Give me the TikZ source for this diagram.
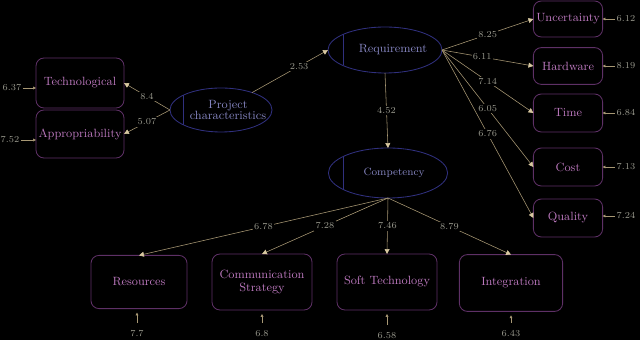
\documentclass[tikz,border=0pt]{standalone}
\usetikzlibrary{shapes.geometric,arrows.meta,calc}
\definecolor{latline}{HTML}{30307E}
\definecolor{lattext}{HTML}{8686C2}
\definecolor{boxline}{HTML}{5E3066}
\definecolor{boxtext}{HTML}{BC78BE}
\definecolor{pathcol}{HTML}{A89874}
\definecolor{tipcol}{HTML}{D8C8A0}
\definecolor{numcol}{HTML}{9A9A8E}

\begin{document}
\begin{tikzpicture}[
    x=0.025cm, y=-0.025cm,
    latent/.style={ellipse, draw=latline, line width=0.6pt, inner sep=0pt, outer sep=0pt},
    lattxt/.style={text=lattext, font=\fontsize{8.5}{9.5}\selectfont, align=center},
    obs/.style={rectangle, draw=boxline, line width=0.6pt, rounded corners=0.2cm, text=boxtext, font=\fontsize{8.5}{9.5}\selectfont, align=center, inner sep=1pt, outer sep=0pt},
    path/.style={draw=pathcol, line width=0.4pt, -{Triangle[width=3.5pt,length=3.5pt,color=tipcol]}},
    errpath/.style={draw=pathcol, line width=0.4pt, -{Triangle[width=2pt,length=2pt]}},
    coef/.style={fill=black, text=numcol, font=\fontsize{6.5}{7}\selectfont, inner sep=1pt},
    err/.style={text=numcol, font=\fontsize{6.5}{7}\selectfont, inner sep=1pt}
]
\fill[black] (0,0) rectangle (640,340);
\useasboundingbox (0,0) rectangle (640,340);

% Latent variables
\node[latent, minimum width=2.55cm, minimum height=1.1cm] (proj) at (221,110) {};
\node[latent, minimum width=2.85cm, minimum height=1.15cm] (req) at (385,50) {};
\node[latent, minimum width=2.98cm, minimum height=1.25cm] (comp) at (388,173) {};
\node[lattxt] (projtxt) at ($(proj)+(7,0)$) {Project\\[-1pt]characteristics};
\node[lattxt] (reqtxt) at ($(req)+(8,0)$) {Requirement};
\node[lattxt, font=\fontsize{7.5}{8.5}\selectfont] (comptxt) at ($(comp)+(6,0)$) {Competency};
\draw[latline, line width=0.6pt] ($(proj.west)+(13,-15)$) -- ($(proj.west)+(13,15)$);
\draw[latline, line width=0.6pt] ($(req.west)+(15,-15.5)$) -- ($(req.west)+(15,15.5)$);
\draw[latline, line width=0.6pt] ($(comp.west)+(15,-16.5)$) -- ($(comp.west)+(15,16.5)$);

% Indicators of project characteristics
\node[obs, minimum width=2.2cm, minimum height=1.25cm] (tech) at (80,83) {Technological};
\node[obs, minimum width=2.2cm, minimum height=1.2cm] (appr) at (80,134) {Appropriability};

% Indicators of requirement
\node[obs, minimum width=1.73cm, minimum height=0.9cm] (unc) at (568,19) {Uncertainty};
\node[obs, minimum width=1.73cm, minimum height=0.92cm] (hard) at (568,66) {Hardware};
\node[obs, minimum width=1.73cm, minimum height=0.95cm] (time) at (568,113) {Time};
\node[obs, minimum width=1.73cm, minimum height=0.95cm] (cost) at (568,167) {Cost};
\node[obs, minimum width=1.73cm, minimum height=0.95cm] (qual) at (568,218) {Quality};

% Indicators of competency
\node[obs, minimum width=2.4cm, minimum height=1.33cm] (res) at (139,282) {Resources};
\node[obs, minimum width=2.5cm, minimum height=1.4cm] (comm) at (262,282) {Communication\\Strategy};
\node[obs, minimum width=2.5cm, minimum height=1.4cm] (soft) at (387,282) {Soft Technology};
\node[obs, minimum width=2.58cm, minimum height=1.42cm] (integ) at (511,283) {Integration};

% Structural paths
\draw[path] (proj.west) -- (tech.east) node[coef, midway] {8.4};
\draw[path] (proj.west) -- (appr.east) node[coef, midway] {5.07};
\draw[path] (proj) -- (req.west) node[coef, pos=0.62] {2.53};
\draw[path] (req.south) -- (comp.north) node[coef, midway] {4.52};

% Requirement loadings
\draw[path] (req.east) -- (unc.west) node[coef, midway] {8.25};
\draw[path] (req.east) -- (hard.west) node[coef, pos=0.44] {6.11};
\draw[path] (req.east) -- (time.west) node[coef, midway] {7.14};
\draw[path] (req.east) -- (cost.west) node[coef, midway] {6.05};
\draw[path] (req.east) -- (qual.west) node[coef, midway] {6.76};

% Competency loadings
\draw[path] (comp.south) -- (res.north) node[coef, midway] {6.78};
\draw[path] (comp.south) -- (comm.north) node[coef, midway] {7.28};
\draw[path] (comp.south) -- (soft.north) node[coef, midway] {7.46};
\draw[path] (comp.south) -- (integ.north) node[coef, midway] {8.79};

% Error terms
\node[err] (e1) at (12,88) {6.37};
\node[err] (e2) at (10,140) {7.52};
\draw[errpath] (e1.east) -- (e1.east -| tech.west);
\draw[errpath] (e2.east) -- (e2.east -| appr.west);
\node[err] (e3) at (626,19) {6.12};
\node[err] (e4) at (626,66) {8.19};
\node[err] (e5) at (626,113) {6.84};
\node[err] (e6) at (626,167) {7.13};
\node[err] (e7) at (626,216) {7.24};
\draw[errpath] (e3.west) -- (e3.west -| unc.east);
\draw[errpath] (e4.west) -- (e4.west -| hard.east);
\draw[errpath] (e5.west) -- (e5.west -| time.east);
\draw[errpath] (e6.west) -- (e6.west -| cost.east);
\draw[errpath] (e7.west) -- (e7.west -| qual.east);
\node[err] (e8) at (137,334) {7.7};
\node[err] (e9) at (262,334) {6.8};
\node[err] (e10) at (387,336) {6.58};
\node[err] (e11) at (511,334) {6.43};
\draw[errpath, shorten <=0.15cm, shorten >=0.1cm] (e8.north) -- (e8.north |- res.south);
\draw[errpath, shorten <=0.15cm, shorten >=0.1cm] (e9.north) -- (e9.north |- comm.south);
\draw[errpath, shorten <=0.15cm, shorten >=0.1cm] (e10.north) -- (e10.north |- soft.south);
\draw[errpath, shorten <=0.15cm, shorten >=0.1cm] (e11.north) -- (e11.north |- integ.south);
\end{tikzpicture}
\end{document}
